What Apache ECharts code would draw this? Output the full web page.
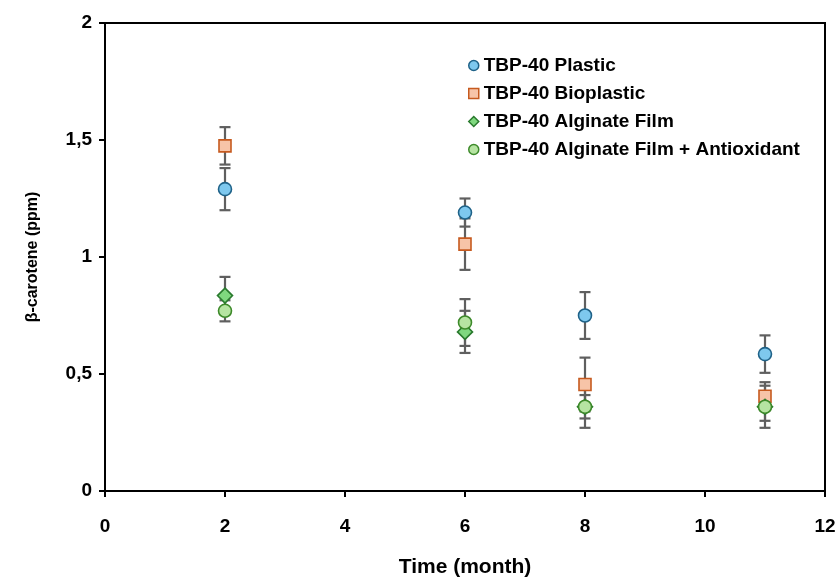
<!DOCTYPE html>
<html>
<head>
<meta charset="utf-8">
<script src="https://cdn.jsdelivr.net/npm/echarts@6/dist/echarts.min.js"></script>
<style>
  html, body { margin: 0; padding: 0; background: #fff; }
  #chart { width: 840px; height: 577px; }
</style>
</head>
<body>
<div id="chart"></div>
<script>
const MONTHS = [2, 6, 8, 11];
const SERIES_NAMES = [
  "TBP-40 Plastic",
  "TBP-40 Bioplastic",
  "TBP-40 Alginate Film",
  "TBP-40 Alginate Film + Antioxidant",
];
const PLASTIC = [1.29, 1.19, 0.75, 0.585];
const PLASTIC_ERR = [0.09, 0.06, 0.1, 0.08];
const BIOPLASTIC = [1.475, 1.055, 0.455, 0.405];
const BIOPLASTIC_ERR = [0.08, 0.11, 0.115, 0.06];
const ALGINATE = [0.835, 0.68, 0.36, 0.36];
const ALGINATE_ERR = [0.08, 0.09, 0.05, 0.06];
const ANTIOX = [0.77, 0.72, 0.36, 0.36];
const ANTIOX_ERR = [0.045, 0.1, 0.09, 0.09];
const Y_TICKS = [0, 0.5, 1, 1.5, 2];
const X_TICKS = [0, 2, 4, 6, 8, 10, 12];

const FONT = "Liberation Sans";
const AXIS = "#000";
const ERR = "#5f5f5f";

const STYLES = [
  { symbol: "circle", size: 13, fill: "#7ec8ee", border: "#1f6288" },
  { symbol: "rect", size: 12, fill: "#f7c4a8", border: "#c65a1f" },
  { symbol: "diamond", size: 15, fill: "#7fd87f", border: "#2a7a2e" },
  { symbol: "circle", size: 13, fill: "#b6e4a2", border: "#3d8a2a" },
];

const means = [PLASTIC, BIOPLASTIC, ALGINATE, ANTIOX];
const errs = [PLASTIC_ERR, BIOPLASTIC_ERR, ALGINATE_ERR, ANTIOX_ERR];

function errorBars(values, e) {
  return MONTHS.map((m, i) => [m, values[i] - e[i], values[i] + e[i]]);
}

function renderError(params, api) {
  const x = api.value(0);
  const lo = api.coord([x, api.value(1)]);
  const hi = api.coord([x, api.value(2)]);
  const w = 5.5;
  const style = { stroke: ERR, lineWidth: 2.2 };
  return {
    type: "group",
    children: [
      { type: "line", shape: { x1: lo[0], y1: lo[1], x2: hi[0], y2: hi[1] }, style },
      { type: "line", shape: { x1: lo[0] - w, y1: lo[1], x2: lo[0] + w, y2: lo[1] }, style },
      { type: "line", shape: { x1: hi[0] - w, y1: hi[1], x2: hi[0] + w, y2: hi[1] }, style },
    ],
  };
}

const errorSeries = means.map((v, k) => ({
  type: "custom",
  name: SERIES_NAMES[k] + " err",
  renderItem: renderError,
  data: errorBars(v, errs[k]),
  z: 1,
  silent: true,
}));

const scatterSeries = means.map((v, k) => ({
  type: "scatter",
  name: SERIES_NAMES[k],
  symbol: STYLES[k].symbol,
  symbolSize: STYLES[k].size,
  data: MONTHS.map((m, i) => [m, v[i]]),
  itemStyle: { color: STYLES[k].fill, borderColor: STYLES[k].border, borderWidth: 1.6, opacity: 1 },
  z: 3,
}));

const chart = echarts.init(document.getElementById("chart"), null, { renderer: "canvas" });

chart.setOption({
  animation: false,
  grid: {
    left: 105, right: 15, top: 23, bottom: 86,
    containLabel: false, outerBoundsMode: "none",
    show: true, borderColor: AXIS, borderWidth: 2,
  },
  legend: {
    data: SERIES_NAMES.map((name, k) => ({
      name,
      itemStyle: { color: STYLES[k].fill, borderColor: STYLES[k].border, borderWidth: 1.5 },
    })),
    orient: "vertical",
    left: 463,
    top: 51,
    itemWidth: 10,
    itemHeight: 10,
    itemGap: 9,
    textStyle: { fontFamily: FONT, fontWeight: "bold", fontSize: 19, color: "#000", lineHeight: 19 },
  },
  xAxis: {
    type: "value",
    min: X_TICKS[0],
    max: X_TICKS[X_TICKS.length - 1],
    interval: 2,
    name: "Time (month)",
    nameLocation: "middle",
    nameGap: 66,
    nameTextStyle: { fontFamily: FONT, fontWeight: "bold", fontSize: 21, color: "#000" },
    axisLine: { show: true, lineStyle: { color: AXIS, width: 2 } },
    axisTick: { show: true, length: 6, lineStyle: { color: AXIS, width: 2 } },
    axisLabel: { margin: 26, fontFamily: FONT, fontWeight: "bold", fontSize: 19, color: "#000" },
    splitLine: { show: false },
  },
  yAxis: {
    type: "value",
    min: Y_TICKS[0],
    max: Y_TICKS[Y_TICKS.length - 1],
    interval: 0.5,
    name: "β-carotene (ppm)",
    nameLocation: "middle",
    nameGap: 64,
    nameTextStyle: { fontFamily: FONT, fontWeight: "bold", fontSize: 16, color: "#000" },
    axisLine: { show: true, lineStyle: { color: AXIS, width: 2 } },
    axisTick: { show: true, length: 6, lineStyle: { color: AXIS, width: 2 } },
    axisLabel: {
      margin: 13,
      fontFamily: FONT,
      fontWeight: "bold",
      fontSize: 19,
      color: "#000",
      formatter: (v) => String(v).replace(".", ","),
    },
    splitLine: { show: false },
  },
  series: [...errorSeries, ...scatterSeries],
});
</script>
</body>
</html>
